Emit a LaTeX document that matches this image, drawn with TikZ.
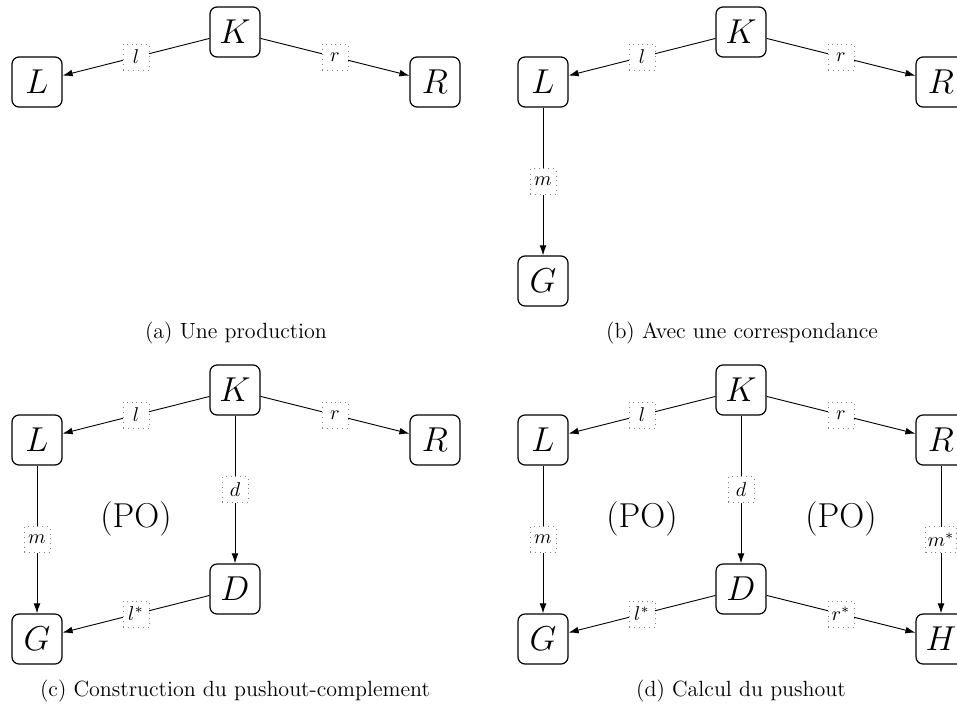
\documentclass[tikz,border=0pt]{standalone}
\usetikzlibrary{arrows.meta}
\begin{document}
\begin{tikzpicture}[x=0.5pt,y=-0.5pt,
  obj/.style={draw, line width=0.6pt, rounded corners=3.5pt, minimum size=25pt,
    inner sep=0pt, font=\fontsize{17.28}{20}\selectfont},
  lab/.style={draw=gray, dotted, fill=white, minimum size=13pt, inner sep=1pt,
    font=\fontsize{10}{12}\selectfont},
  arr/.style={-{Latex[length=5pt,width=3.4pt]}, line width=0.45pt},
  po/.style={font=\fontsize{17.28}{20}\selectfont},
  subcap/.style={font=\fontsize{11}{13}\selectfont}]
\useasboundingbox (0,0) rectangle (957,707);

% (a) the production
\node[obj] (aK) at (235,32) {$K$};
\node[obj] (aL) at (37,82) {$L$};
\node[obj] (aR) at (435,82) {$R$};
\draw[arr] (aK) -- node[lab] (al) {$l$} (aL);
\draw[arr] (aK) -- node[lab] (ar) {$r$} (aR);
\node[subcap] (capa) at (236,333) {(a) Une production};

% (b) with a match
\node[obj] (bK) at (741,32) {$K$};
\node[obj] (bL) at (543,82) {$L$};
\node[obj] (bR) at (941,82) {$R$};
\node[obj] (bG) at (543,281) {$G$};
\draw[arr] (bK) -- node[lab] (bl) {$l$} (bL);
\draw[arr] (bK) -- node[lab] (br) {$r$} (bR);
\draw[arr] (bL) -- node[lab] (bm) {$m$} (bG);
\node[subcap] (capb) at (742,333) {(b) Avec une correspondance};

% (c) pushout complement
\node[obj] (cK) at (235,390) {$K$};
\node[obj] (cL) at (37,440) {$L$};
\node[obj] (cR) at (435,440) {$R$};
\node[obj] (cD) at (235,589) {$D$};
\node[obj] (cG) at (37,639) {$G$};
\draw[arr] (cK) -- node[lab] (cl) {$l$} (cL);
\draw[arr] (cK) -- node[lab] (cr) {$r$} (cR);
\draw[arr] (cL) -- node[lab] (cm) {$m$} (cG);
\draw[arr] (cK) -- node[lab] (cd) {$d$} (cD);
\draw[arr] (cD) -- node[lab] (cls) {$l^*$} (cG);
\node[po] (cpo) at (136,519) {(PO)};
\node[subcap] (capc) at (235,691) {(c) Construction du pushout-complement};

% (d) pushout
\node[obj] (dK) at (741,390) {$K$};
\node[obj] (dL) at (543,440) {$L$};
\node[obj] (dR) at (941,440) {$R$};
\node[obj] (dD) at (741,589) {$D$};
\node[obj] (dG) at (543,639) {$G$};
\node[obj] (dH) at (941,639) {$H$};
\draw[arr] (dK) -- node[lab] (dl) {$l$} (dL);
\draw[arr] (dK) -- node[lab] (dr) {$r$} (dR);
\draw[arr] (dL) -- node[lab] (dm) {$m$} (dG);
\draw[arr] (dK) -- node[lab] (dd) {$d$} (dD);
\draw[arr] (dD) -- node[lab] (dls) {$l^*$} (dG);
\draw[arr] (dD) -- node[lab] (drs) {$r^*$} (dH);
\draw[arr] (dR) -- node[lab] (dms) {$m^*$} (dH);
\node[po] (dpo1) at (642,519) {(PO)};
\node[po] (dpo2) at (841,519) {(PO)};
\node[subcap] (capd) at (741,691) {(d) Calcul du pushout};
\end{tikzpicture}
\end{document}
